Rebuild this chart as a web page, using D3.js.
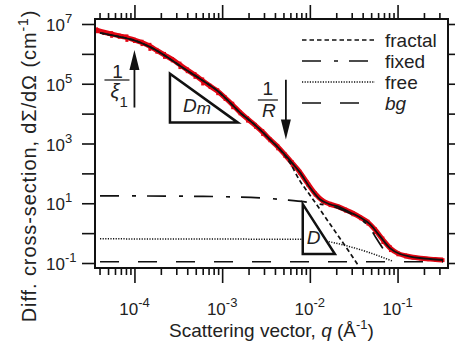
<!DOCTYPE html>
<html>
<head>
<meta charset="utf-8">
<script src="https://cdn.jsdelivr.net/npm/d3@7/dist/d3.min.js"></script>
<style>
  body { margin: 0; background: #fff; }
  svg { display: block; }
  text { font-family: "Liberation Sans", Arial, sans-serif; fill: #222; }
</style>
</head>
<body>
<svg id="chart"></svg>
<script>
// measured data (q in 1/A, intensity in 1/cm, relative error)
const dataQ = [3.7e-5, 4.5e-5, 5.5e-5, 6.7e-5, 8.2e-5, 1.0e-4, 1.22e-4, 1.5e-4, 1.8e-4, 2.2e-4, 2.7e-4, 3.3e-4, 4.0e-4, 4.9e-4, 6.0e-4, 7.3e-4, 8.9e-4, 1.08e-3, 1.32e-3, 1.6e-3, 1.95e-3, 2.4e-3, 2.9e-3, 3.5e-3, 4.3e-3, 5.2e-3, 6.3e-3, 7.7e-3, 9.4e-3, 1.15e-2, 1.4e-2, 1.7e-2, 2.1e-2, 2.55e-2, 3.1e-2, 3.8e-2, 4.6e-2, 5.6e-2, 6.8e-2, 8.3e-2, 0.101, 0.123, 0.15, 0.183, 0.223, 0.27, 0.33];
const dataI = [6.3e6, 5.3e6, 4.6e6, 4.0e6, 3.5e6, 2.9e6, 2.4e6, 1.8e6, 1.3e6, 9.2e5, 6.5e5, 4.3e5, 2.9e5, 1.95e5, 1.25e5, 8.3e4, 5.6e4, 3.4e4, 1.95e4, 1.1e4, 6.6e3, 4.0e3, 2.4e3, 1.38e3, 780, 420, 220, 110, 47, 21, 12.2, 9.3, 7.7, 6.0, 4.6, 3.3, 2.3, 1.25, 0.6, 0.31, 0.21, 0.175, 0.155, 0.145, 0.137, 0.13, 0.126];
const dataErr = [0.22, 0.18, 0.25, 0.2, 0.28, 0.2, 0.24, 0.3, 0.22, 0.26, 0.2, 0.28, 0.22, 0.25, 0.3, 0.2, 0.26, 0.22, 0.28, 0.2, 0.24, 0.22, 0.26, 0.2, 0.24, 0.22, 0.25, 0.2, 0.22, 0.2, 0.18, 0.2, 0.16, 0.18, 0.2, 0.18, 0.22, 0.25, 0.28, 0.25, 0.2, 0.18, 0.16, 0.15, 0.14, 0.14, 0.15];

// total fit
const fitQ = [4.05e-5, 6.0e-5, 9.6e-5, 1.5e-4, 2.35e-4, 3.57e-4, 5.58e-4, 9.4e-4, 1.23e-3, 1.6e-3, 2.07e-3, 2.7e-3, 3.51e-3, 4.56e-3, 5.93e-3, 7.71e-3, 1.0e-2, 1.3e-2, 1.69e-2, 2.2e-2, 2.86e-2, 3.72e-2, 4.84e-2, 6.3e-2, 8.18e-2, 0.1066, 0.1387, 0.18, 0.234, 0.33];
const fitI = [5.0e6, 4.0e6, 2.93e6, 1.71e6, 7.9e5, 3.4e5, 1.47e5, 5.0e4, 2.33e4, 1.08e4, 5.85e3, 2.93e3, 1.36e3, 631, 271, 108, 34.1, 13.6, 9.26, 7.36, 5.01, 3.41, 2.0, 0.79, 0.316, 0.2, 0.165, 0.147, 0.136, 0.126];

// components
const fractalQ = [4.05e-5, 6.0e-5, 9.6e-5, 1.5e-4, 2.35e-4, 3.57e-4, 5.58e-4, 9.4e-4, 1.23e-3, 1.6e-3, 2.07e-3, 2.7e-3, 3.51e-3, 4.56e-3, 5.93e-3, 7.71e-3, 1.0e-2, 1.3e-2, 1.69e-2, 2.2e-2, 2.86e-2, 3.53e-2];
const fractalI = [5.0e6, 4.0e6, 2.93e6, 1.71e6, 7.9e5, 3.4e5, 1.47e5, 5.0e4, 2.33e4, 1.08e4, 5.85e3, 2.93e3, 1.36e3, 631, 224, 56, 19, 6.3, 2.05, 0.67, 0.22, 0.087];
const fixedQ = [4.05e-5, 5.58e-4, 2.7e-3, 5.2e-3, 8.8e-3, 1.24e-2, 1.69e-2, 2.2e-2, 2.86e-2, 3.72e-2, 4.84e-2, 5.68e-2, 6.83e-2];
const fixedI = [17.7, 17.0, 15.2, 13.0, 11.1, 9.55, 8.19, 6.5, 4.6, 3.0, 1.5, 0.70, 0.30];
const freeQ = [4.05e-5, 7.71e-3, 1.3e-2, 1.69e-2, 2.63e-2, 4.48e-2, 8.87e-2];
const freeI = [0.644, 0.62, 0.574, 0.51, 0.376, 0.237, 0.114];
const bgQ = [4.05e-5, 0.33];
const bgI = [0.11, 0.11];

const legendLabels = ['fractal', 'fixed', 'free', 'bg'];
const xLabelExp = [-4, -3, -2, -1];
const yLabelExp = [7, 5, 3, 1, -1];

const width = 455, height = 347;
const margin = {top: 19, right: 7, bottom: 79, left: 95};

const svg = d3.select('#chart').attr('width', width).attr('height', height);

const x = d3.scaleLog().domain([3.55e-5, 0.376]).range([margin.left, width - margin.right]);
const y = d3.scaleLog().domain([Math.pow(10, -1.167), Math.pow(10, 7.167)]).range([height - margin.bottom, margin.top]);

const x0 = margin.left, x1 = width - margin.right, y0 = height - margin.bottom, y1 = margin.top;

svg.append('defs').append('clipPath').attr('id', 'clip')
  .append('rect').attr('x', x0).attr('y', y1).attr('width', x1 - x0).attr('height', y0 - y1);

// ticks
var majorX = [1e-4, 1e-3, 1e-2, 1e-1];
var minorX = [];
[-5, -4, -3, -2, -1].forEach(function(e) {
  for (var k = 2; k <= 9; k++) {
    var v = k * Math.pow(10, e);
    if (v > x.domain()[0] && v < x.domain()[1]) minorX.push(v);
  }
});
var decY = d3.range(-1, 8).map(function(e) { return Math.pow(10, e); });

function tickAxis(axis, values, size, tx, ty) {
  var g = svg.append('g')
    .attr('transform', 'translate(' + tx + ',' + ty + ')')
    .call(axis.tickValues(values).tickSize(size).tickFormat(''));
  g.select('.domain').remove();
  g.selectAll('line').attr('stroke', '#111').attr('stroke-width', 1.6);
}
tickAxis(d3.axisBottom(x), majorX, 15, 0, y0);
tickAxis(d3.axisBottom(x), minorX, 7, 0, y0);
tickAxis(d3.axisTop(x), majorX, 14, 0, y1);
tickAxis(d3.axisTop(x), minorX, 6, 0, y1);
tickAxis(d3.axisLeft(y), decY, 13, x0, 0);
tickAxis(d3.axisRight(y), decY, 7, x1, 0);

// tick labels
svg.append('g').selectAll('text')
  .data(xLabelExp)
  .enter().append('text')
  .attr('x', function(d) { return x(Math.pow(10, d)); })
  .attr('y', 315)
  .attr('text-anchor', 'middle')
  .style('font-size', '17px')
  .each(function(d) {
    var t = d3.select(this);
    t.append('tspan').text('10');
    t.append('tspan').attr('dy', -8).style('font-size', '13px').text(String(d));
  });

svg.append('g').selectAll('text')
  .data(yLabelExp)
  .enter().append('text')
  .attr('x', 46)
  .attr('y', function(d) { return y(Math.pow(10, d)) + 7; })
  .style('font-size', '17px')
  .each(function(d) {
    var t = d3.select(this);
    t.append('tspan').text('10');
    t.append('tspan').attr('dy', -8).style('font-size', '13px').text(String(d));
  });

// axis titles
var xt = svg.append('text')
  .attr('x', (x0 + x1) / 2).attr('y', 337)
  .attr('text-anchor', 'middle')
  .style('font-size', '19px');
xt.append('tspan').text('Scattering vector, ');
xt.append('tspan').style('font-style', 'italic').text('q');
xt.append('tspan').text(' (Å');
xt.append('tspan').attr('dy', -8).style('font-size', '13px').text('-1');
xt.append('tspan').attr('dy', 8).text(')');

var yt = svg.append('text')
  .attr('transform', 'translate(36,166) rotate(-90)')
  .attr('text-anchor', 'middle')
  .style('font-size', '20px')
  .style('letter-spacing', '0.9px');
yt.append('tspan').text('Diff. cross-section, dΣ/dΩ (cm');
yt.append('tspan').attr('dy', -8).style('font-size', '14px').text('-1');
yt.append('tspan').attr('dy', 8).text(')');

// plot area
var plot = svg.append('g').attr('clip-path', 'url(#clip)');

var line = d3.line()
  .x(function(d) { return x(d[0]); })
  .y(function(d) { return y(d[1]); })
  .curve(d3.curveMonotoneX);

var data = dataQ.map(function(q, i) { return [q, dataI[i], dataErr[i]]; });

plot.append('path')
  .datum(data)
  .attr('d', line)
  .attr('fill', 'none')
  .attr('stroke', '#e30613')
  .attr('stroke-width', 5);

plot.selectAll('.err')
  .data(data)
  .enter().append('line')
  .attr('class', 'err')
  .attr('x1', function(d) { return x(d[0]); })
  .attr('x2', function(d) { return x(d[0]); })
  .attr('y1', function(d) { return y(d[1] * (1 + d[2])); })
  .attr('y2', function(d) { return y(d[1] * (1 - d[2])); })
  .attr('stroke', '#e30613')
  .attr('stroke-width', 3);

var comps = [
  {q: fractalQ, v: fractalI, dash: '4.5,3', w: 1.7},
  {q: fixedQ, v: fixedI, dash: '19,13,4,11', w: 1.7},
  {q: freeQ, v: freeI, dash: '1.2,1.4', w: 1.5},
  {q: bgQ, v: bgI, dash: '19,19', w: 1.7}
];

comps.forEach(function(c) {
  plot.append('path')
    .datum(c.q.map(function(q, i) { return [q, c.v[i]]; }))
    .attr('d', line)
    .attr('fill', 'none')
    .attr('stroke', '#111')
    .attr('stroke-width', c.w)
    .attr('stroke-dasharray', c.dash);
});

plot.append('path')
  .datum(fitQ.map(function(q, i) { return [q, fitI[i]]; }))
  .attr('d', line)
  .attr('fill', 'none')
  .attr('stroke', '#111')
  .attr('stroke-width', 1.8);

// frame
svg.append('rect')
  .attr('x', x0).attr('y', y1)
  .attr('width', x1 - x0).attr('height', y0 - y1)
  .attr('fill', 'none').attr('stroke', '#111').attr('stroke-width', 2);

// legend
var leg = svg.append('g');
legendLabels.forEach(function(name, i) {
  var ly = 40 + i * 21;
  leg.append('line')
    .attr('x1', 302).attr('x2', 375).attr('y1', ly).attr('y2', ly)
    .attr('stroke', '#111')
    .attr('stroke-width', comps[i].w)
    .attr('stroke-dasharray', comps[i].dash);
  leg.append('text')
    .attr('x', 385).attr('y', ly + 7)
    .style('font-size', '19px')
    .style('font-style', name === 'bg' ? 'italic' : 'normal')
    .text(name);
});

// annotations: slope triangles (white filled, they mask the lines below)
var triDm = [[2.54e-4, 2.15e5], [2.54e-4, 5.0e3], [1.51e-3, 5.0e3]];
var triD = [[8.3e-3, 9.3], [8.3e-3, 0.2], [1.93e-2, 0.2]];
[triDm, triD].forEach(function(t) {
  svg.append('path')
    .attr('d', 'M' + t.map(function(p) { return x(p[0]) + ',' + y(p[1]); }).join('L') + 'Z')
    .attr('fill', '#fff')
    .attr('stroke', '#111')
    .attr('stroke-width', 2.5)
    .attr('stroke-linejoin', 'miter');
});

var dm = svg.append('text')
  .attr('x', x(triDm[1][0]) + 13).attr('y', y(triDm[1][1]) - 11)
  .style('font-size', '19px').style('font-style', 'italic');
dm.append('tspan').text('D');
dm.append('tspan').attr('dy', 2).style('font-size', '17px').text('m');

svg.append('text')
  .attr('x', x(triD[1][0]) + 4).attr('y', y(triD[1][1]) - 10)
  .style('font-size', '19px').style('font-style', 'italic')
  .text('D');

// annotations: arrows with 1/xi1 and 1/R
var arrows = [
  {q: 1e-4, from: 1.6e4, to: 1.36e6},
  {q: 5.33e-3, from: 1.36e5, to: 1.36e3}
];
arrows.forEach(function(a) {
  var ax = x(a.q), ya = y(a.from), yb = y(a.to);
  var dir = yb < ya ? -1 : 1;
  svg.append('line')
    .attr('x1', ax).attr('x2', ax).attr('y1', ya).attr('y2', yb - dir * 18)
    .attr('stroke', '#111').attr('stroke-width', 1.8);
  svg.append('path')
    .attr('d', 'M' + ax + ',' + yb + 'L' + (ax - 5) + ',' + (yb - dir * 20) + 'L' + (ax + 5) + ',' + (yb - dir * 20) + 'Z')
    .attr('fill', '#111');
});

// 1/xi1
var ax1 = x(arrows[0].q);
svg.append('line').attr('x1', ax1 - 30).attr('x2', ax1 - 5).attr('y1', 80).attr('y2', 80)
  .attr('stroke', '#222').attr('stroke-width', 1.3);
svg.append('text').attr('x', ax1 - 17).attr('y', 78).attr('text-anchor', 'middle')
  .style('font-size', '19px').text('1');
var xi = svg.append('text').attr('x', ax1 - 24).attr('y', 98)
  .style('font-size', '20px').style('font-style', 'italic');
xi.append('tspan').text('ξ');
xi.append('tspan').attr('dy', 9).style('font-size', '15px').style('font-style', 'normal').text('1');

// 1/R
var ax2 = x(arrows[1].q);
svg.append('line').attr('x1', ax2 - 28).attr('x2', ax2 - 8).attr('y1', 100).attr('y2', 100)
  .attr('stroke', '#222').attr('stroke-width', 1.3);
svg.append('text').attr('x', ax2 - 18).attr('y', 95).attr('text-anchor', 'middle')
  .style('font-size', '19px').text('1');
svg.append('text').attr('x', ax2 - 17).attr('y', 117).attr('text-anchor', 'middle')
  .style('font-size', '19px').style('font-style', 'italic').text('R');
</script>
</body>
</html>
